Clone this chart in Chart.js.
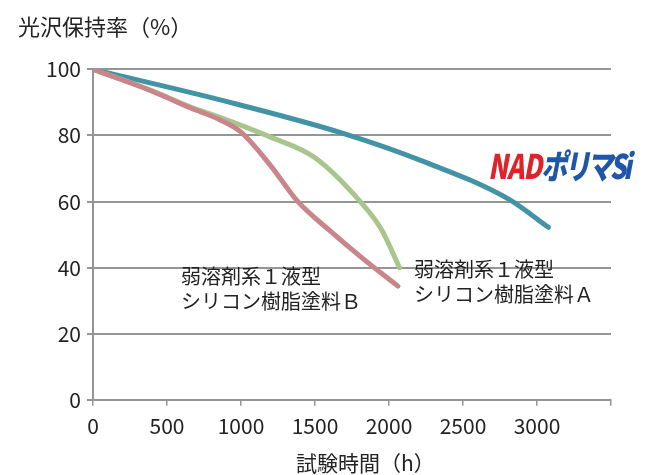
<!DOCTYPE html>
<html>
<head>
<meta charset="utf-8">
<script src="https://cdn.jsdelivr.net/npm/chart.js@4"></script>
<style>
  body { margin: 0; background: #fff; }
  .wrap { position: relative; width: 645px; height: 475px; }
  .note, .xtitle {
    position: absolute;
    font-family: "Noto Sans CJK JP", sans-serif;
    font-size: 20px;
    line-height: 25px;
    color: #222;
    white-space: nowrap;
  }
  .xtitle { font-size: 21px; line-height: 28px; }
  .logo {
    position: absolute;
    left: 488px;
    top: 145px;
    font-family: "Noto Sans CJK JP", sans-serif;
    font-weight: 900;
    font-style: italic;
    font-size: 34px;
    line-height: 40px;
    letter-spacing: -1px;
    transform: scaleX(0.76);
    transform-origin: left top;
    white-space: nowrap;
  }
  .logo .red { color: #e0232a; }
  .logo .blue { color: #1f56a6; letter-spacing: -4px; }
</style>
</head>
<body>
<div class="wrap">
  <canvas id="chart"></canvas>
  <div class="note" style="left:181px; top:263px;">弱溶剤系１液型<br>シリコン樹脂塗料Ｂ</div>
  <div class="note" style="left:414px; top:256px;">弱溶剤系１液型<br>シリコン樹脂塗料Ａ</div>
  <div class="xtitle" style="left:296px; top:448px;">試験時間（h）</div>
  <div class="logo"><span class="red">NAD</span><span class="blue">ポリマSi</span></div>
</div>
<script>
// NADポリマSi
const hoursNad = [0, 900, 1700, 2218, 2806, 3077];
const valuesNad = [100, 90.3, 80.5, 72.4, 60.8, 52.2];

// 塗料A
const hoursA = [0, 400, 660, 862, 1200, 1495, 1790, 1947, 2071];
const valuesA = [100, 93.5, 88.6, 85.4, 79.5, 73.4, 60.8, 51.7, 40];

// 塗料B
const hoursB = [0, 400, 660, 860, 1000, 1200, 1380, 1600, 1830, 2060];
const valuesB = [100, 93.4, 88.3, 84.7, 81, 70.9, 60.2, 51.2, 42.5, 34.4];

const xTicks = [0, 500, 1000, 1500, 2000, 2500, 3000];
const yTicks = [0, 20, 40, 60, 80, 100];

const toPoints = (xs, ys) => xs.map((x, i) => ({ x: x, y: ys[i] }));

const axisColor = '#959595';
const fontFamily = '"Noto Sans CJK JP", sans-serif';
const tickFont = { family: fontFamily, size: 21 };

function lineSet(label, data, color) {
    return {
        label: label,
        data: data,
        borderColor: color,
        borderWidth: 5,
        borderCapStyle: 'round',
        borderJoinStyle: 'round',
        pointRadius: 0,
        cubicInterpolationMode: 'monotone',
        fill: false
    };
}

new Chart(document.getElementById('chart'), {
    type: 'line',
    data: {
        datasets: [
            lineSet('B', toPoints(hoursB, valuesB), '#c9858a'),
            lineSet('A', toPoints(hoursA, valuesA), '#a8c58e'),
            lineSet('NAD', toPoints(hoursNad, valuesNad), '#4393a6')
        ]
    },
    options: {
        responsive: true,
        maintainAspectRatio: false,
        animation: false,
        layout: { padding: { left: 18, right: 34, top: 6, bottom: 28 } },
        plugins: {
            legend: { display: false },
            tooltip: { enabled: false },
            title: {
                display: true,
                text: '光沢保持率（%）',
                align: 'start',
                color: '#222',
                font: { family: fontFamily, size: 22, weight: 'normal' },
                padding: { top: 7, bottom: 30 }
            }
        },
        scales: {
            x: {
                type: 'linear',
                min: 0,
                max: 3500,
                afterBuildTicks: axis => {
                    axis.ticks = xTicks.concat([3500]).map(v => ({ value: v }));
                },
                ticks: {
                    color: '#222',
                    font: tickFont,
                    padding: 8,
                    maxRotation: 0,
                    callback: v => (xTicks.includes(v) ? String(v) : '')
                },
                grid: { drawOnChartArea: false, color: axisColor, lineWidth: 1.5, tickLength: 6 },
                border: { color: axisColor, width: 2 }
            },
            y: {
                min: 0,
                max: 100,
                afterBuildTicks: axis => {
                    axis.ticks = yTicks.map(v => ({ value: v }));
                },
                afterFit: axis => { axis.width = 75; },
                ticks: { color: '#222', font: tickFont, padding: 6 },
                grid: { color: axisColor, lineWidth: 2, tickLength: 6 },
                border: { color: axisColor, width: 2 }
            }
        }
    }
});
</script>
</body>
</html>
